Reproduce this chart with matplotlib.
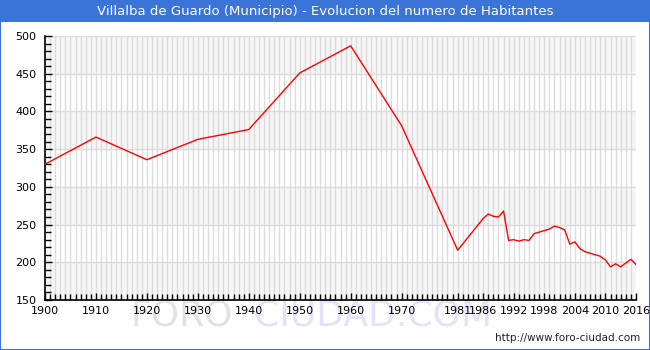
import numpy as np
import matplotlib.pyplot as plt
from matplotlib.patches import Rectangle

years = [1900, 1910, 1920, 1930, 1940, 1950, 1960, 1970, 1981,
         1986, 1987, 1988, 1989, 1990, 1991, 1992, 1993, 1994, 1995,
         1996, 1997, 1998, 1999, 2000, 2001, 2002, 2003, 2004, 2005,
         2006, 2007, 2008, 2009, 2010, 2011, 2012, 2013, 2014, 2015, 2016]
habitantes = [330, 366, 336, 363, 376, 451, 487, 381, 216,
              258, 264, 261, 260, 268, 229, 230, 228, 230, 229,
              238, 240, 242, 244, 248, 246, 243, 224, 227, 218,
              214, 212, 210, 208, 203, 194, 198, 194, 199, 204, 197]
xticks = [1900, 1910, 1920, 1930, 1940, 1950, 1960, 1970, 1981, 1986,
          1992, 1998, 2004, 2010, 2016]
title = "Villalba de Guardo (Municipio) - Evolucion del numero de Habitantes"

fig = plt.figure(figsize=(6.5, 3.5), dpi=100)
blue = '#3a74d8'

# marco y barra de titulo
fig.patches.append(Rectangle((0, 0), 1, 1, transform=fig.transFigure,
                             fill=False, edgecolor=blue, lw=1.5))
fig.patches.append(Rectangle((0, 1 - 22 / 350), 1, 22 / 350, transform=fig.transFigure,
                             facecolor=blue, edgecolor='none'))
fig.text(0.5, 1 - 11 / 350, title, color='white', ha='center', va='center', fontsize=9.5)

# marca de agua (detras de todo)
fig.text(233 / 650, 1 - 315 / 350, "FORO", color='#e2e2e2', fontsize=26, ha='right', va='center', zorder=-5)
fig.text(254 / 650, 1 - 315 / 350, "CIUDAD.COM", color='#e2e2fa', fontsize=26, ha='left', va='center', zorder=-5)

ax = fig.add_axes([45 / 650, 1 - 300 / 350, (636 - 45) / 650, (300 - 36) / 350])
ax.set_xlim(1900, 2016)
ax.set_ylim(150, 500)

# bandas alternas
for y0 in range(150, 500, 100):
    ax.axhspan(y0, y0 + 50, color='#f6f6f6', zorder=0)
for yr in range(1901, 2016):
    ax.axvline(yr, color='#dcdcdc', lw=1, zorder=1)
for yv in range(200, 501, 50):
    ax.axhline(yv, color='#dcdcdc', lw=1, zorder=1)

ax.plot(years, habitantes, color='#ff0000', lw=1, zorder=3)

ax.set_xticks(xticks)
ax.set_xticks(range(1900, 2017), minor=True)
ax.set_yticks(range(150, 501, 50))
ax.set_yticks(range(150, 501, 10), minor=True)
ax.tick_params(axis='both', which='major', labelsize=8, length=5, width=1, direction='in')
ax.tick_params(axis='both', which='minor', length=4, width=1, direction='in')
ax.tick_params(axis='x', which='both', direction='in', pad=4)
ax.tick_params(axis='y', pad=6)

for side in ['top', 'right']:
    ax.spines[side].set_visible(False)
for side in ['left', 'bottom']:
    ax.spines[side].set_linewidth(1.2)

fig.text(0.985, 1 - 338 / 350, "http://www.foro-ciudad.com", fontsize=7.5, ha='right', va='center', color='#222222')

fig.savefig('out.png', dpi=100)
